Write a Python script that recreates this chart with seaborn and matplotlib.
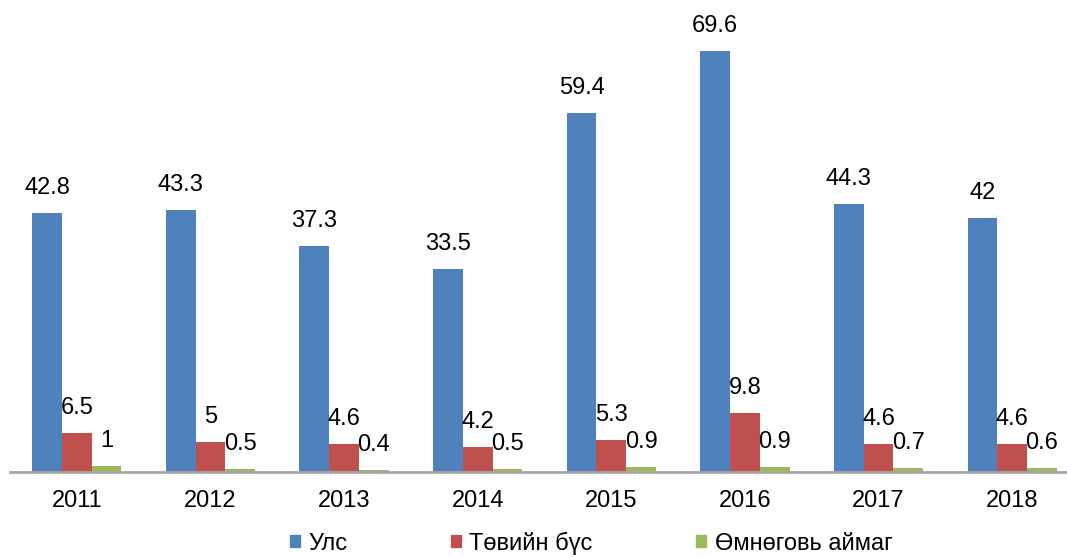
import pandas as pd
import numpy as np
import matplotlib.pyplot as plt
import seaborn as sns

years = ['2011', '2012', '2013', '2014', '2015', '2016', '2017', '2018']
uls = [42.8, 43.3, 37.3, 33.5, 59.4, 69.6, 44.3, 42]
tuviin = [6.5, 5, 4.6, 4.2, 5.3, 9.8, 4.6, 4.6]
umnugovi = [1, 0.5, 0.4, 0.5, 0.9, 0.9, 0.7, 0.6]
series = ['Улс', 'Төвийн бүс', 'Өмнөговь аймаг']
colors = ['#4F81BD', '#C0504D', '#9BBB59']

df = pd.DataFrame({
    'year': years * 3,
    'value': uls + tuviin + umnugovi,
    'series': [series[0]] * 8 + [series[1]] * 8 + [series[2]] * 8,
})

sns.set_style('white')
plt.rcParams['font.family'] = ['Liberation Sans', 'DejaVu Sans']
plt.rcParams['text.color'] = 'black'
plt.rcParams['xtick.color'] = 'black'

fig = plt.figure(figsize=(10.67, 5.57), dpi=100)
ax = fig.add_axes([10 / 1067, 85 / 557, 1069 / 1067, 423.5 / 557])

sns.barplot(data=df, x='year', y='value', hue='series', palette=colors,
            width=0.667, gap=0, saturation=1, edgecolor='none', ax=ax, legend=False)

# подписи значений
for cont in ax.containers:
    ax.bar_label(cont, fmt='%g', padding=10, fontsize=17, color='black', clip_on=False)

ax.set_ylim(0, 70)
ax.set_xlim(-0.5, 7.5)
ax.set_xlabel('')
ax.set_ylabel('')
ax.set_yticks([])
ax.tick_params(axis='x', length=0, pad=13, labelsize=17, labelcolor='black')
for s in ['top', 'left', 'right']:
    ax.spines[s].set_visible(False)
ax.spines['bottom'].set_color('#A6A6A6')
ax.spines['bottom'].set_linewidth(2)

handles = [plt.Rectangle((0, 0), 1, 1, color=c) for c in colors]
fig.legend(handles, series, loc='center', bbox_to_anchor=(591 / 1067, 14 / 557),
           ncol=3, frameon=False, fontsize=17, handlelength=0.42, handleheight=0.42,
           handletextpad=0.35, columnspacing=4.4)

fig.savefig('out.png', dpi=100)
